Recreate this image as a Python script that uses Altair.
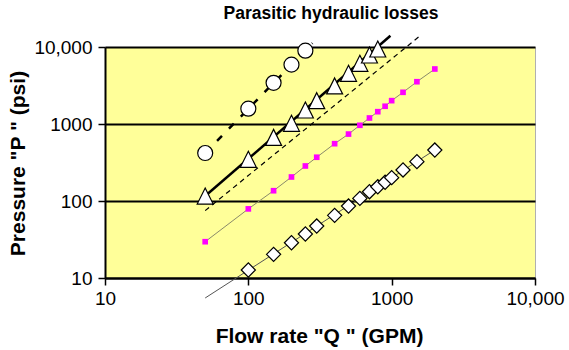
import altair as alt
import pandas as pd

# ---- data ----
circ_x = [50, 100, 150, 200, 250]
circ_y = [420, 1580, 3430, 5900, 8950]
circ_fit_x = [50, 280]
circ_fit_y = [420, 11200]

tri_x = [50, 100, 150, 200, 250, 300, 400, 500, 600, 700, 800]
tri_y = [116, 348, 670, 1020, 1520, 2010, 3120, 4550, 6140, 7870, 9420]
tri_fit_x = [50, 980]
tri_fit_y = [116, 14000]

dash_x = [50, 1550]
dash_y = [75, 13600]

sq_x = [50, 100, 150, 200, 250, 300, 400, 500, 600, 700, 800, 900, 1000, 1200, 1500, 2000]
sq_y = [29.6, 79, 136, 205, 285, 370, 555, 740, 962, 1197, 1445, 1700, 2010, 2580, 3540, 5180]

dia_x = [100, 150, 200, 250, 300, 400, 500, 600, 700, 800, 900, 1000, 1200, 1500, 2000]
dia_y = [12.7, 20.3, 28.7, 37.3, 47.3, 65.2, 86, 108, 132, 153, 175, 201, 253, 324, 459]
dia_fit_x = [50, 2000]
dia_fit_y = [5.5, 460]

tick_vals = [10, 100, 1000, 10000]
chart_title = ["Parasitic hydraulic losses"]

FONT = "Liberation Sans"
TRIANGLE = "M0,-1L1,1L-1,1Z"

def df(xs, ys):
    return pd.DataFrame({"x": xs, "y": ys})

xscale = alt.Scale(type="log", domain=[10, 10000], nice=False)
yscale = alt.Scale(type="log", domain=[10, 10000], nice=False)

label_expr = "datum.value >= 10000 ? '10,000' : format(datum.value, 'd')"

X = alt.X("x:Q", scale=xscale, axis=alt.Axis(
    values=tick_vals, labelExpr=label_expr, grid=False,
    title='Flow rate "Q " (GPM)', titleFontSize=21, titleFont=FONT, titleFontWeight="bold",
    titleX=214, titleY=64, titleBaseline="alphabetic", titleAlign="center",
    labelFontSize=19, labelFont=FONT, labelColor="black", labelPadding=4,
    domainColor="black", domainWidth=2, tickColor="black", tickSize=7, tickWidth=1.5,
    labelFlush=False, labelOverlap=False))
Y = alt.Y("y:Q", scale=yscale, axis=alt.Axis(
    values=tick_vals, labelExpr=label_expr, grid=True, gridColor="black", gridWidth=2,
    title='Pressure "P " (psi)', titleFontSize=21, titleFont=FONT, titleFontWeight="bold",
    titleX=-81, titleY=116, titleAngle=270, titleBaseline="alphabetic", titleAlign="center",
    labelFontSize=19, labelFont=FONT, labelColor="black", labelPadding=6,
    domainColor="black", domainWidth=2, tickColor="black", tickSize=7, tickWidth=1.5,
    labelFlush=False, labelOverlap=False))

circ_line = alt.Chart(df(circ_fit_x, circ_fit_y)).mark_line(
    color="black", strokeWidth=2.5, strokeDash=[7, 10]).encode(x=X, y=Y)
tri_line = alt.Chart(df(tri_fit_x, tri_fit_y)).mark_line(
    color="black", strokeWidth=2.5).encode(x=X, y=Y)
dash_line = alt.Chart(df(dash_x, dash_y)).mark_line(
    color="black", strokeWidth=1.2, strokeDash=[5, 4]).encode(x=X, y=Y)
sq_line = alt.Chart(df(sq_x, sq_y)).mark_line(
    color="#8a8a6a", strokeWidth=1).encode(x=X, y=Y)
dia_line = alt.Chart(df(dia_fit_x, dia_fit_y)).mark_line(
    color="#555555", strokeWidth=1).encode(x=X, y=Y)

circ_pts = alt.Chart(df(circ_x, circ_y)).mark_point(
    shape="circle", size=225, filled=True, fill="white", stroke="black",
    strokeWidth=1.2, opacity=1).encode(x=X, y=Y)
tri_pts = alt.Chart(df(tri_x, tri_y)).mark_point(
    shape=TRIANGLE, size=256, filled=True, fill="white", stroke="black",
    strokeWidth=1.2, opacity=1).encode(x=X, y=Y)
sq_pts = alt.Chart(df(sq_x, sq_y)).mark_point(
    shape="square", size=32, filled=True, fill="#FF00FF", strokeWidth=0,
    opacity=1).encode(x=X, y=Y)
dia_pts = alt.Chart(df(dia_x, dia_y)).mark_point(
    shape="diamond", size=200, filled=True, fill="white", stroke="black",
    strokeWidth=1.2, opacity=1).encode(x=X, y=Y)

title_txt = alt.Chart(pd.DataFrame({"t": chart_title})).mark_text(
    font=FONT, fontSize=17.5, fontWeight="bold", color="black",
    align="center", baseline="alphabetic"
).encode(text="t:N", x=alt.value(226), y=alt.value(-28))

chart = alt.layer(
    dia_line, sq_line, dash_line, tri_line, circ_line,
    dia_pts, sq_pts, tri_pts, circ_pts, title_txt
).properties(
    width=430, height=231,
    background="white",
    autosize=alt.AutoSizeParams(type="none"),
    padding={"left": 105, "top": 47, "right": 34, "bottom": 72},
).configure_view(
    fill="#FFFF99", stroke="#b0b0b0", strokeWidth=1
)

chart.save("out.html", embed_options={"renderer": "svg", "actions": False})
